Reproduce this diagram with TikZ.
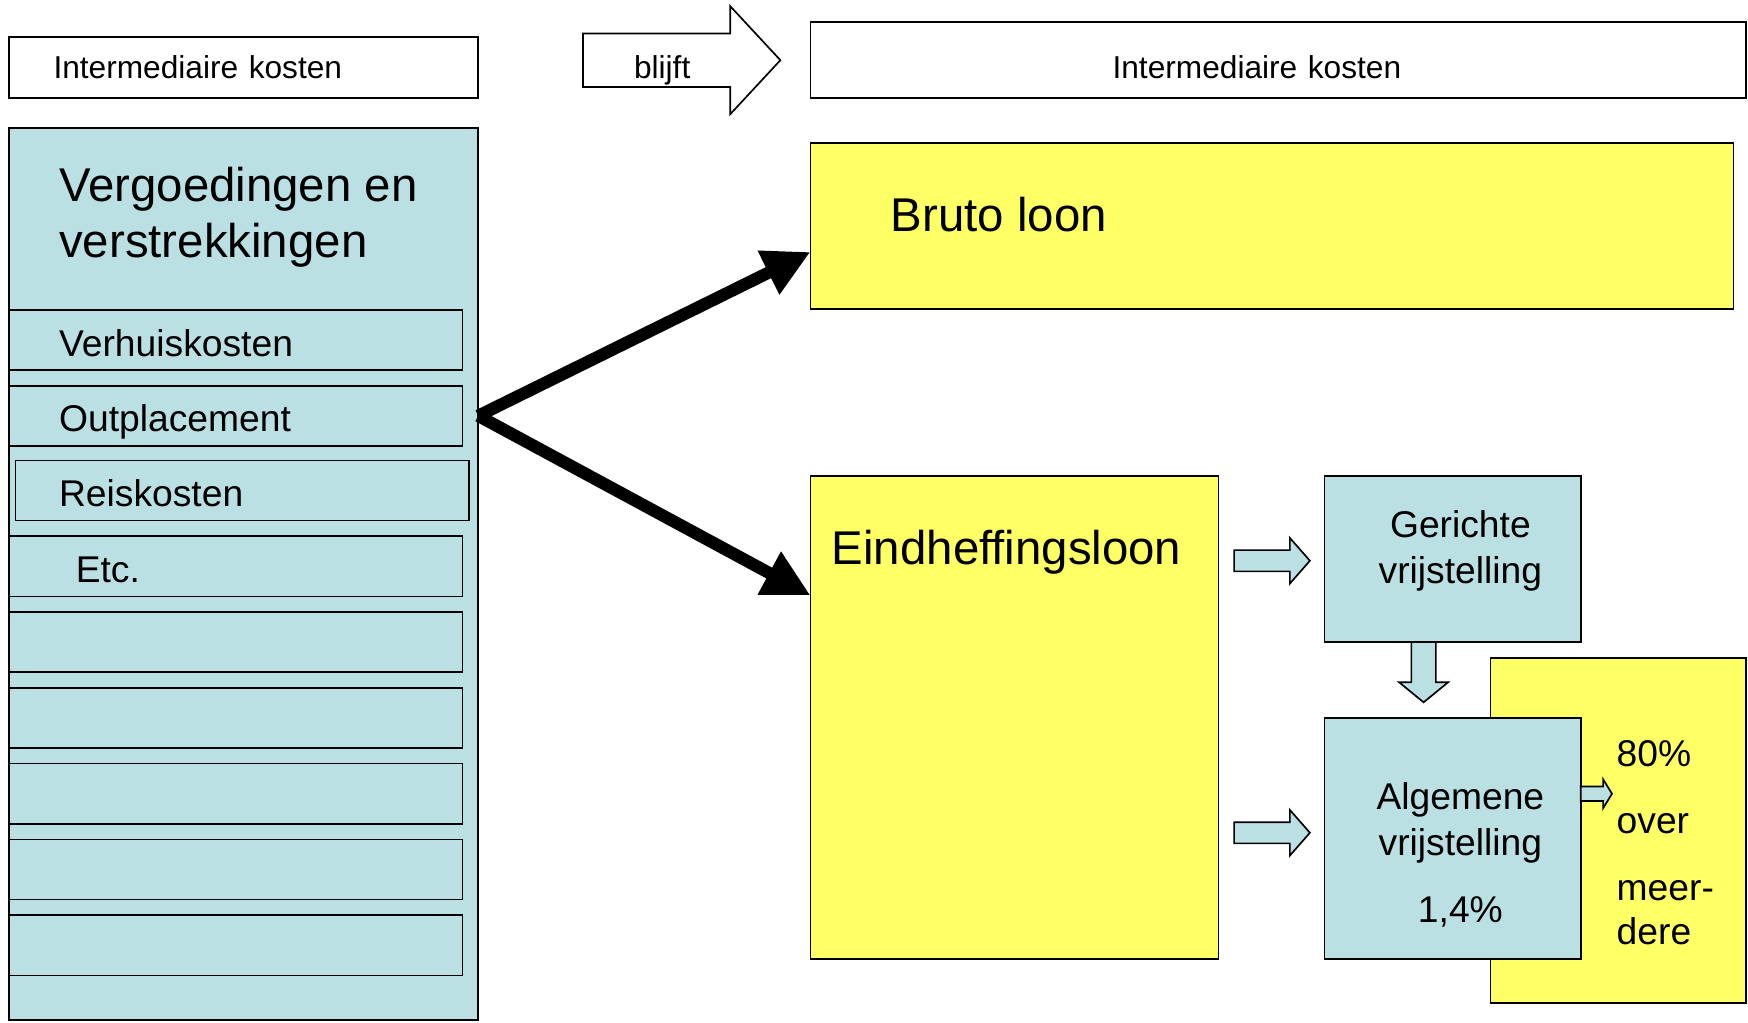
\documentclass[tikz,border=0pt]{standalone}
\usepackage{fontspec}
\setmainfont{Liberation Sans}
\usetikzlibrary{arrows.meta}
\definecolor{boxcyan}{RGB}{187,224,227}
\definecolor{boxyellow}{RGB}{255,255,102}
\newcommand{\szS}{\fontsize{28.4}{34}\selectfont}
\newcommand{\szM}{\fontsize{33.4}{41}\selectfont}
\newcommand{\szL}{\fontsize{42.5}{50}\selectfont}
\tikzset{
  frame/.style={draw,line width=1.5pt,anchor=north west,inner sep=0pt,outer sep=0pt},
  whitebox/.style={frame,fill=white},
  cyanbox/.style={frame,fill=boxcyan},
  yellowbox/.style={frame,fill=boxyellow},
  itembox/.style={cyanbox,minimum width=407,minimum height=54,font=\szM,
    inner xsep=45,text width=317,align=left,text height=29pt,text depth=0pt},
  blockarrow/.style={draw,line width=1.5pt,fill=boxcyan,line join=miter},
  forkarrow/.style={line width=11pt,-{Triangle[length=42pt,width=41pt]}},
}
\begin{document}
\begin{tikzpicture}[x=1pt,y=-1pt]
\useasboundingbox (0,0) rectangle (1568,917);

% left column
\node[cyanbox,minimum width=421,minimum height=800] (verg) at (8,115) {};
\node[font=\szL,align=left,anchor=north west,inner sep=0pt] (vergtitle) at (53,150)
  {Vergoedingen en\\verstrekkingen};
\node[itembox] (verh) at (8,278) {Verhuiskosten};
\node[itembox] (outpl) at (8,346) {Outplacement};
\node[itembox,inner xsep=39,text width=329] (reis) at (14,413) {Reiskosten};
\node[itembox] (etc) at (8,481) {\hspace*{15pt}Etc.};
\foreach \yy [count=\k] in {549,617,685,753,821}
  \node[itembox] (blank\k) at (8,\yy) {};

% top row
\node[whitebox,minimum width=421,minimum height=55,font=\szS,inner xsep=40,
  text width=341,align=left,text height=20pt,text depth=0pt] (costL) at (8,33)
  {Intermediaire kosten};
\coordinate (blijfttail) at (523,54);
\draw[blockarrow,fill=white] (blijfttail) ++(0,-24) -- ++(132,0) -- ++(0,-24.5)
  -- ++(45,48.5) -- ++(-45,48.5) -- ++(0,-24.5) -- ++(-132,0) -- cycle;
\node[font=\szS,anchor=base,inner sep=0pt] (blijft) at (594,70.5) {blijft};
\node[whitebox,minimum width=839,minimum height=68,font=\szS,inner xsep=271,
  text width=297,align=left,text height=33pt,text depth=0pt] (costR) at (727,20)
  {Intermediaire kosten};

% right side
\node[yellowbox,minimum width=828,minimum height=149] (bruto) at (727,128) {};
\node[font=\szL,anchor=base west,inner sep=0pt] (brutotxt) at (799,208) {Bruto loon};
\node[yellowbox,minimum width=366,minimum height=433] (eind) at (727,427) {};
\node[font=\szL,anchor=base west,inner sep=0pt] (eindtxt) at (746,506) {Eindheffingsloon};

\coordinate (fork) at (verg.east |- outpl.center);
\draw[forkarrow] (fork) -- ([yshift=-98pt]bruto.north west);
\draw[forkarrow] (fork) -- ([yshift=-107pt]eind.north west);

\node[cyanbox,minimum width=230,minimum height=149] (ger) at (1188,427) {};
\node[font=\szM,align=center,anchor=north,inner sep=0pt] (gertxt) at (1310,458)
  {Gerichte\\vrijstelling};
\node[yellowbox,minimum width=229,minimum height=310] (pct) at (1337,590) {};
\node[cyanbox,minimum width=230,minimum height=216] (alg) at (1188,644) {};
\node[font=\szM,align=center,anchor=north,inner sep=0pt] (algtxt) at (1310,702)
  {Algemene\\vrijstelling\\[19pt]1,4\%};
\node[font=\fontsize{33.4}{40}\selectfont,align=left,anchor=north west,inner sep=0pt]
  (pcttxt) at (1450,664) {80\%\\[20pt]over\\[20pt]meer-\\dere};

% block arrows
\coordinate (togertail) at (1107,503);
\coordinate (toalgtail) at (1107,747);
\coordinate (downtail) at (ger.south -| 1277,0);
\coordinate (topcttail) at (alg.east |- 0,712);
\foreach \t in {togertail,toalgtail}
  \draw[blockarrow] (\t) ++(0,-9.5) -- ++(50,0) -- ++(0,-11) -- ++(18,20.5)
    -- ++(-18,20.5) -- ++(0,-11) -- ++(-50,0) -- cycle;
\draw[blockarrow] (downtail) ++(-11,0) -- ++(0,36) -- ++(-11,0) -- ++(22,18)
  -- ++(22,-18) -- ++(-11,0) -- ++(0,-36) -- cycle;
\draw[blockarrow] (topcttail) ++(0,-6.5) -- ++(20,0) -- ++(0,-6.5) -- ++(8,13)
  -- ++(-8,13) -- ++(0,-6.5) -- ++(-20,0) -- cycle;
\end{tikzpicture}
\end{document}
